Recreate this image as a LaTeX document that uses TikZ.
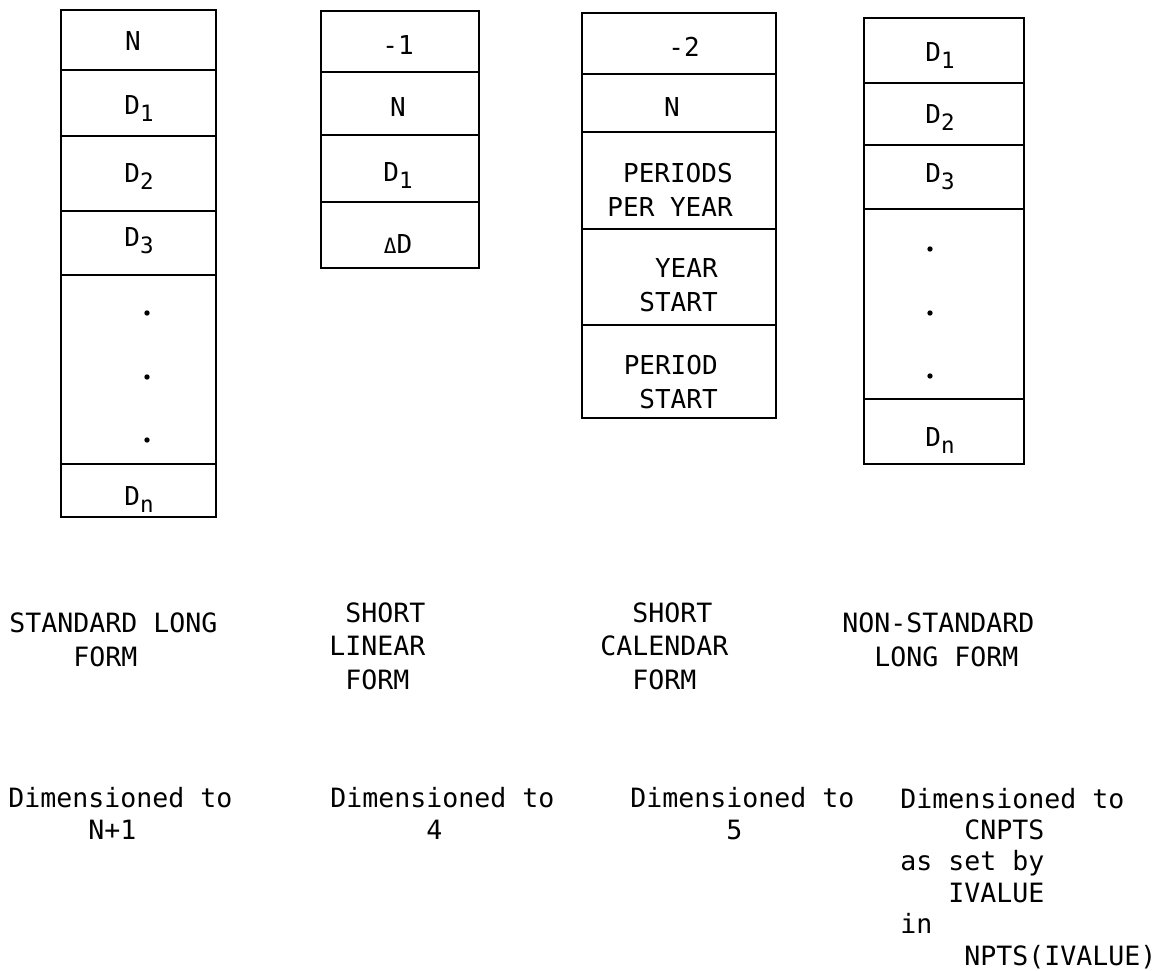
\documentclass[tikz,border=0pt]{standalone}
\usepackage{fontspec}
\setmainfont{DejaVu Sans Mono}
\usepackage{tikz}

\newcommand\sub[1]{\raisebox{-0.28em}{\fontsize{16}{16}\selectfont #1}}
\newcommand\indt[1]{\hspace*{#1\fontcharwd\font`0}}

\begin{document}
\begin{tikzpicture}[x=0.025cm,y=-0.025cm,
  cellline/.style={line width=1.3pt},
  celltext/.style={inner sep=0pt,text height=0.73em,text depth=0pt,font=\fontsize{18.5}{23.8}\selectfont},
  blocktext/.style={inner sep=0pt,anchor=east,align=right,font=\fontsize{18.5}{23.8}\selectfont},
  caption/.style={anchor=base west,inner sep=0pt,align=left,font=\fontsize{18.9}{23.5}\selectfont},
  dimtext/.style={caption,font=\fontsize{18.9}{22.3}\selectfont}]
\useasboundingbox (0,0) rectangle (1163,971);

% standard long form
\draw[cellline] (61,10) rectangle (216,517);
\foreach \d in {70,136,211,275,464} \draw[cellline] (61,\d) -- (216,\d);
\foreach \n/\x/\y/\txt in {1/133/45/N,2/139/109/D\sub{1},3/139/177/D\sub{2},4/139/241/D\sub{3},6/139/500/D\sub{n}}
  \node[celltext] (slf\n) at (\x,\y) {\txt};
\foreach \y in {313,377,440} \fill (147,\y) circle[radius=1.9pt];

% short linear form
\draw[cellline] (321,11) rectangle (479,268);
\foreach \d in {72,135,202} \draw[cellline] (321,\d) -- (479,\d);
\foreach \n/\y/\txt in {1/49/-1,2/111/N,3/176/D\sub{1},4/248/{{\fontsize{15}{15}\selectfont Δ}D}}
  \node[celltext] (sln\n) at (398,\y) {\txt};

% short calendar form
\draw[cellline] (582,13) rectangle (776,418);
\foreach \d in {74,132,229,325} \draw[cellline] (582,\d) -- (776,\d);
\node[celltext] (scf1) at (684,51) {-2};
\node[celltext] (scf2) at (672,111) {N};
\node[blocktext] (scf3) at (733,190) {PERIODS\\PER YEAR};
\node[blocktext] (scf4) at (718,285) {YEAR\\START};
\node[blocktext] (scf5) at (718,382) {PERIOD\\START};

% non-standard long form
\draw[cellline] (864,18) rectangle (1024,464);
\foreach \d in {83,145,209,399} \draw[cellline] (864,\d) -- (1024,\d);
\foreach \n/\y/\txt in {1/56/D\sub{1},2/118/D\sub{2},3/177/D\sub{3},5/441/D\sub{n}}
  \node[celltext] (nsl\n) at (940,\y) {\txt};
\foreach \y in {249,313,376} \fill (930,\y) circle[radius=1.9pt];

% names of the forms
\node[caption] (slfcap) at (9,666) {STANDARD LONG\\\indt{4}FORM};
\node[caption] (slncap) at (329,689) {\indt{1}SHORT\\LINEAR\\\indt{1}FORM};
\node[caption] (scfcap) at (600,689) {\indt{2}SHORT\\CALENDAR\\\indt{2}FORM};
\node[caption] (nslcap) at (842,666) {NON-STANDARD\\\indt{2}LONG FORM};

% dimensions
\node[dimtext] (slfdim) at (8,839) {Dimensioned to\\\indt{5}N+1};
\node[dimtext] (slndim) at (330,839) {Dimensioned to\\\indt{6}4};
\node[dimtext] (scfdim) at (630,839) {Dimensioned to\\\indt{6}5};
\node[dimtext] (nsldim) at (900,965) {Dimensioned to\\\indt{4}CNPTS\\as set by\\\indt{3}IVALUE\\in\\\indt{4}NPTS(IVALUE)};
\end{tikzpicture}
\end{document}
